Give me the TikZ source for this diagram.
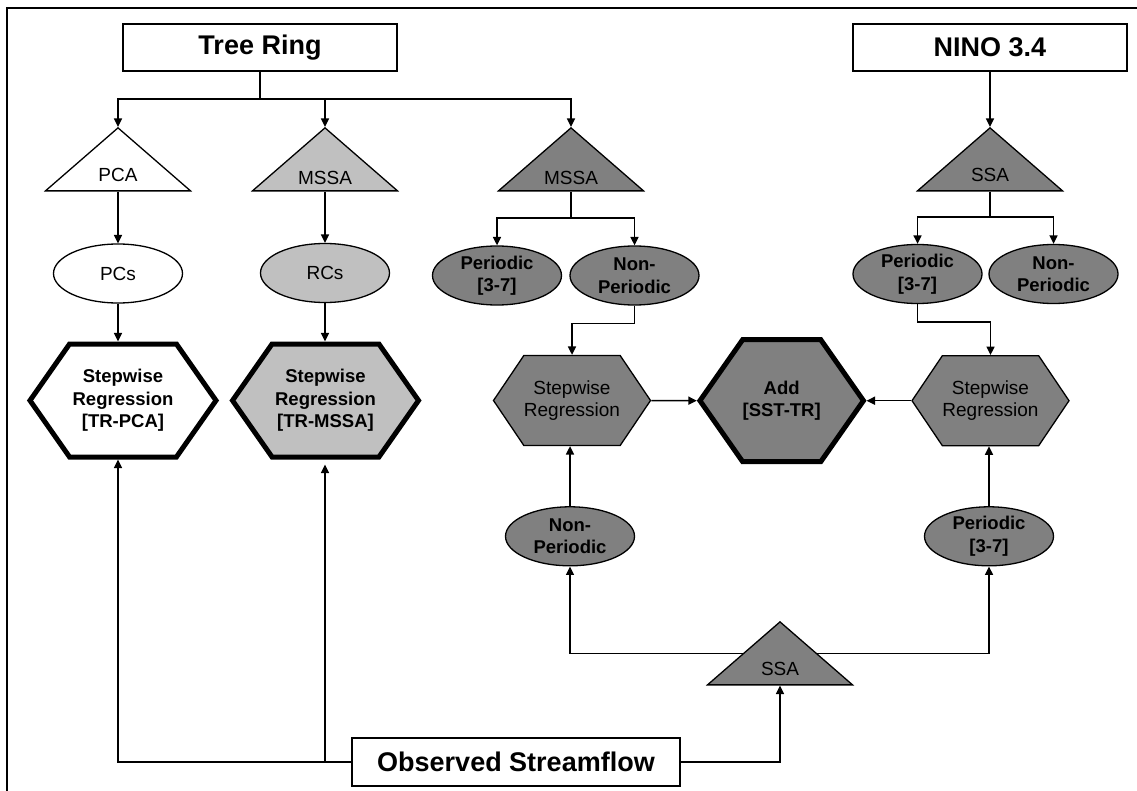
\documentclass[tikz,border=0pt]{standalone}
\usepackage{fontspec}
\setmainfont{Liberation Sans}
\usepackage{tikz}
\usetikzlibrary{arrows.meta,calc,positioning,backgrounds,shapes.geometric,shapes.symbols}
\definecolor{lightfill}{HTML}{C0C0C0}
\definecolor{deepfill}{HTML}{808080}
\newcommand\hdrfont{\fontsize{27}{30}\selectfont\bfseries}
\newcommand\lblfont{\fontsize{19}{22.5}\selectfont}
\newcommand\lblbf{\fontsize{18.5}{22.5}\selectfont\bfseries}

\begin{document}
\begin{tikzpicture}[x=1pt, y=-1pt,
  hdr/.style    = {draw=black, line width=1.5pt, fill=white, inner sep=0pt,
                   minimum width=274pt, minimum height=47pt, font=\hdrfont},
  tri/.style    = {draw=black, line width=1.3pt, fill=#1, isosceles triangle,
                   isosceles triangle apex angle=98, isosceles triangle stretches,
                   shape border rotate=90, minimum width=145pt, minimum height=63pt,
                   inner sep=0pt, text height=24pt, font=\lblfont, anchor=apex},
  oval/.style   = {draw=black, line width=1.3pt, fill=#1, ellipse, align=center,
                   minimum width=129pt, minimum height=59pt, inner sep=0pt, font=\lblbf},
  hexa/.style   = {draw=black, line width=1.3pt, fill=deepfill, signal,
                   signal to=west and east, signal pointer angle=112, align=center,
                   minimum width=157pt, minimum height=90pt, inner sep=0pt, font=\lblfont},
  bighex/.style = {hexa, line width=5pt, signal pointer angle=110, font=\lblbf},
  arr/.style    = {-{Stealth[length=8.5pt,width=8pt,inset=0pt]}, line width=1.5pt, draw=black},
  link/.style   = {line width=1.5pt, draw=black},
]
\useasboundingbox (0,0) rectangle (1137,791);
\draw[line width=2pt] (7,791) -- (7,8.5) -- (1137,8.5);

% sources
\node[hdr] (tree) at (260,47.5) {Tree Ring};
\node[hdr] (nino) at (990,47.5) {NINO 3.4};
\node[hdr, minimum width=328pt, minimum height=48pt] (obs) at (516,762) {Observed Streamflow};

% decompositions
\node[tri=white]     (pca)   at (118,127) {PCA};
\node[tri=lightfill] (mssaL) at (325,127) {MSSA};
\node[tri=deepfill]  (mssaR) at (571,127) {MSSA};
\node[tri=deepfill]  (ssaN)  at (990,127) {SSA};
\node[tri=deepfill]  (ssaQ)  at (780,621) {SSA};

% components
\node[oval=white, font=\lblfont]     (pcs)  at (118,273.5) {PCs};
\node[oval=lightfill, font=\lblfont] (rcs)  at (325,273)   {RCs};
\node[oval=deepfill] (perM) at (497,275.5)  {Periodic\\{[3-7]}};
\node[oval=deepfill] (nonM) at (634.5,275.5) {Non-\\Periodic};
\node[oval=deepfill] (perN) at (917.5,274)  {Periodic\\{[3-7]}};
\node[oval=deepfill] (nonN) at (1053.5,274) {Non-\\Periodic};
\node[oval=deepfill] (nonQ) at (570,536.3)  {Non-\\Periodic};
\node[oval=deepfill] (perQ) at (989,536.3)  {Periodic\\{[3-7]}};

% regressions
\node[bighex, fill=white, minimum width=186pt, minimum height=113pt] (regPCA) at (123,400.5)
  {Stepwise\\Regression\\{[TR-PCA]}};
\node[bighex, fill=lightfill, minimum width=186pt, minimum height=113pt] (regMSSA) at (325.5,400.5)
  {Stepwise\\Regression\\{[TR-MSSA]}};
\node[hexa] (regL) at (572,400.5) {Stepwise\\Regression};
\node[hexa] (regR) at (990.5,400.7) {Stepwise\\Regression};
\node[bighex, minimum width=162pt, minimum height=122pt] (add) at (781.7,400.7) {Add\\{[SST-TR]}};

% connectors
\coordinate (trfork) at (260,99);
\coordinate (mssaRfork) at (571,218);
\coordinate (ssaNfork) at (990,217);
\coordinate (ssaQmid) at ($(ssaQ.apex)!0.5!(ssaQ.south)$);
\draw[link] (tree.south) -- (trfork);
\draw[arr] (trfork) -| (pca.apex);
\draw[arr] (trfork) -| (mssaL.apex);
\draw[arr] (trfork) -| (mssaR.apex);
\draw[arr] (nino.south) -- (ssaN.apex);
\draw[arr] (pca.south) -- (pcs.north);
\draw[arr] (mssaL.south) -- (rcs.north);
\draw[arr] (pcs.south) -- (pcs.south |- regPCA.north);
\draw[arr] (rcs.south) -- (rcs.south |- regMSSA.north);
\draw[link] (mssaR.south) -- (mssaRfork);
\draw[arr] (mssaRfork) -| (perM.north);
\draw[arr] (mssaRfork) -| (nonM.north);
\draw[link] (ssaN.south) -- (ssaNfork);
\draw[arr] (ssaNfork) -| (perN.north);
\draw[arr] (ssaNfork) -| (nonN.north);
\draw[arr] (nonM.south) -- ++(0,18) -| (regL.north);
\draw[arr] (perN.south) -- ++(0,18) -| (regR.north);
\draw[arr] (regL.east) -- (add.west);
\draw[arr] (regR.west) -- (add.east);
\draw[arr] (nonQ.north) -- (nonQ.north |- regL.south);
\draw[arr] (perQ.north) -- (perQ.north |- regR.south);
\begin{scope}[on background layer]
  \draw[arr] (ssaQmid) -| (nonQ.south);
  \draw[arr] (ssaQmid) -| (perQ.south);
\end{scope}
\draw[arr] (obs.east) -| (ssaQ.south);
\draw[arr] (obs.west) -| (pcs.south |- regPCA.south);
\draw[arr, shorten >=5pt] (obs.west) -| (rcs.south |- regMSSA.south);
\end{tikzpicture}
\end{document}
